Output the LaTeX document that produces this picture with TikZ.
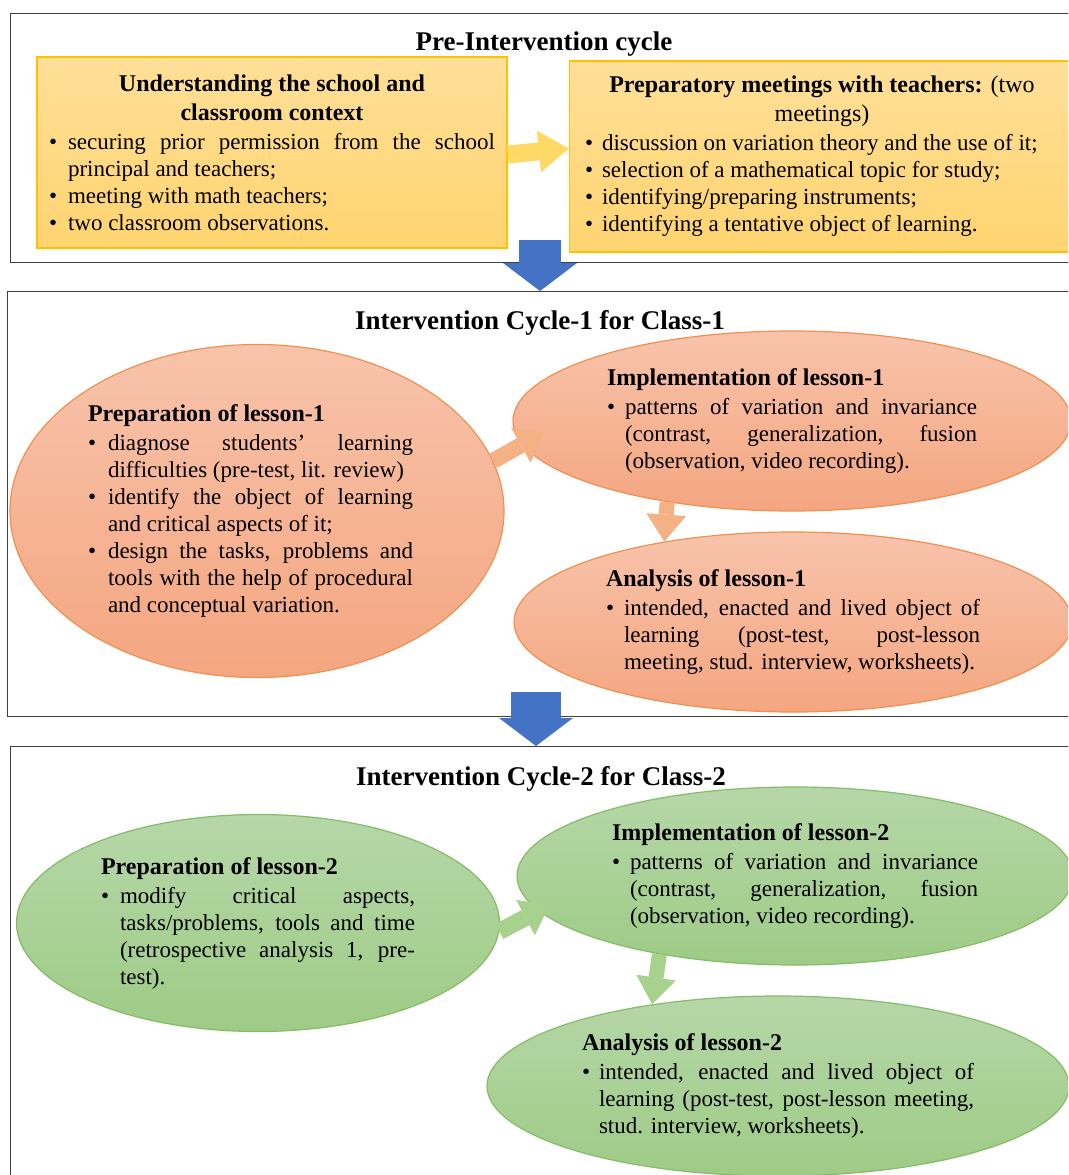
\documentclass[tikz,border=0pt]{standalone}
\usepackage{fontspec}
\setmainfont{Liberation Serif}
\usepackage{enumitem}
\usetikzlibrary{shapes.geometric,arrows.meta,calc}
\definecolor{boxtop}{HTML}{FFDF98}
\definecolor{boxbot}{HTML}{FFD470}
\definecolor{boxline}{HTML}{FFC000}
\definecolor{saltop}{HTML}{F8C3AB}
\definecolor{salbot}{HTML}{F4A680}
\definecolor{salline}{HTML}{F0904F}
\definecolor{grntop}{HTML}{B6D7A8}
\definecolor{grnbot}{HTML}{9ECB86}
\definecolor{grnline}{HTML}{86BC66}
\definecolor{arryel}{HTML}{FFD966}
\definecolor{arrsal}{HTML}{F4B183}
\definecolor{arrgrn}{HTML}{A9D18E}
\definecolor{arrblue}{HTML}{4472C4}
\newcommand\txtfont{\fontsize{23}{27}\selectfont}
\newcommand\hdfont{\fontsize{24}{29}\selectfont\bfseries}
\newcommand\cyfont{\fontsize{27}{32}\selectfont\bfseries}
\setlength\parindent{0pt}
\setlist[itemize]{nosep, topsep=2pt, label=\textbullet, leftmargin=18pt, labelindent=0pt, labelsep=0pt, labelwidth=18pt, align=left}

\begin{document}
\begin{tikzpicture}[x=1pt, y=-1pt,
    frame/.style={draw=black!75, line width=1.3pt, rectangle, anchor=north west},
    cyc/.style={font=\cyfont, inner sep=1pt},
    ybox/.style={rectangle, draw=boxline, line width=1.5pt, top color=boxtop, bottom color=boxbot, font=\txtfont, align=justify},
    soval/.style={ellipse, draw=salline, line width=1.2pt, top color=saltop, bottom color=salbot, font=\txtfont, align=justify, inner sep=0pt},
    goval/.style={ellipse, draw=grnline, line width=1.2pt, top color=grntop, bottom color=grnbot, font=\txtfont, align=justify, inner sep=0pt},
    yarr/.style={draw=arryel, line width=18pt, -{Triangle[width=42pt, length=30pt, line width=0pt]}},
    sarr/.style={draw=arrsal, line width=16pt, -{Triangle[width=40pt, length=27pt, line width=0pt]}},
    garr/.style={draw=arrgrn, line width=17pt, -{Triangle[width=40pt, length=27pt, line width=0pt]}},
    barr/.style={draw=arrblue, line width=#1, -{Triangle[width=74pt, length=28pt, line width=0pt]}}
  ]
  \useasboundingbox (0,0) rectangle (1068,1175);
  \clip (0,0) rectangle (1068,1175);

  % Pre-Intervention cycle
  \node[frame, minimum width=1070pt, minimum height=249pt] (pre) at (10,13) {};
  \node[ybox, minimum width=470pt, minimum height=191pt, text width=446pt] (ctx) at (272,152.5) {%
    {\centering\hdfont Understanding the school and\\ classroom context\par}
    \begin{itemize}[leftmargin=19pt, labelwidth=19pt]
      \item securing prior permission from the school\linebreak principal and teachers;
      \item meeting with math teachers;
      \item two classroom observations.
    \end{itemize}};
  \node[ybox, minimum width=505pt, minimum height=191pt, text width=474pt] (meet) at (822,156.5) {%
    {\centering\hdfont Preparatory meetings with teachers: {\mdseries (two}\\ {\mdseries meetings)}\par}
    \begin{itemize}[leftmargin=17pt, labelwidth=17pt]
      \item discussion on variation theory and the use of it;
      \item selection of a mathematical topic for study;
      \item identifying/preparing instruments;
      \item identifying a tentative object of learning.
    \end{itemize}};
  \draw[yarr] ([yshift=-2pt]ctx.east) -- ([yshift=8pt]meet.west);
  \node[cyc] (pre-t) at (544,44) {Pre-Intervention cycle};

  % Intervention cycle 1
  \node[frame, minimum width=1070pt, minimum height=425pt] (cyc1) at (7,291) {};
  \node[soval, minimum width=494pt, minimum height=333pt, text width=338pt] (prep1) at (257,511) {%
    {\hdfont Preparation of lesson-1\par}
    \begin{itemize}[leftmargin=20pt, labelwidth=20pt, rightmargin=13pt]
      \item diagnose students' learning\linebreak difficulties (pre-test, lit. review)
      \item identify the object of learning\linebreak and critical aspects of it;
      \item design the tasks, problems and\linebreak tools with the help of procedural\linebreak and conceptual variation.
    \end{itemize}};
  \node[soval, minimum width=558pt, minimum height=180pt, text width=370pt] (impl1) at (792,421) {%
    {\hdfont Implementation of lesson-1\par}
    \begin{itemize}
      \item patterns of variation and invariance\linebreak (contrast, generalization, fusion\linebreak (observation, video recording).
    \end{itemize}};
  \node[soval, minimum width=558pt, minimum height=180pt, text width=374pt] (anal1) at (793,622) {%
    {\hdfont Analysis of lesson-1\par}
    \begin{itemize}
      \item intended, enacted and lived object of\linebreak learning (post-test, post-lesson\linebreak meeting, stud. interview, worksheets).
    \end{itemize}};
  \draw[sarr] (prep1.12) -- ($(impl1.west)+(32,11)$);
  \draw[sarr, line width=15pt] (impl1.213) -- (anal1.148);
  \node[cyc] (cyc1-t) at (540,323) {Intervention Cycle-1 for Class-1};

  % Intervention cycle 2
  \node[frame, minimum width=1070pt, minimum height=440pt] (cyc2) at (10,746) {};
  \node[goval, minimum width=483pt, minimum height=217pt, text width=314pt] (prep2) at (258,923) {%
    {\hdfont Preparation of lesson-2\par}
    \begin{itemize}[leftmargin=19pt, labelwidth=19pt]
      \item modify critical aspects,\linebreak tasks/problems, tools and time\linebreak (retrospective analysis 1, pre-\linebreak test).
    \end{itemize}};
  \node[goval, minimum width=556pt, minimum height=178pt, text width=366pt] (impl2) at (795,876) {%
    {\hdfont Implementation of lesson-2\par}
    \begin{itemize}
      \item patterns of variation and invariance\linebreak (contrast, generalization, fusion\linebreak (observation, video recording).
    \end{itemize}};
  \node[goval, minimum width=582pt, minimum height=180pt, text width=392pt] (anal2) at (778,1086) {%
    {\hdfont Analysis of lesson-2\par}
    \begin{itemize}[leftmargin=17pt, labelwidth=17pt]
      \item intended, enacted and lived object of\linebreak learning (post-test, post-lesson meeting,\linebreak stud. interview, worksheets).
    \end{itemize}};
  \draw[garr] (prep2.-2) -- ($(impl2.west)+(33,29)$);
  \draw[garr, line width=15pt] (impl2.210) -- (anal2.147);
  \node[cyc] (cyc2-t) at (541,779) {Intervention Cycle-2 for Class-2};

  % blue arrows between the cycles
  \coordinate (pre-out) at (540,240);
  \coordinate (cyc1-out) at (536,692);
  \draw[barr=42pt] (pre-out) -- (pre-out |- cyc1.north);
  \draw[barr=50pt] (cyc1-out) -- (cyc1-out |- cyc2.north);
\end{tikzpicture}
\end{document}
